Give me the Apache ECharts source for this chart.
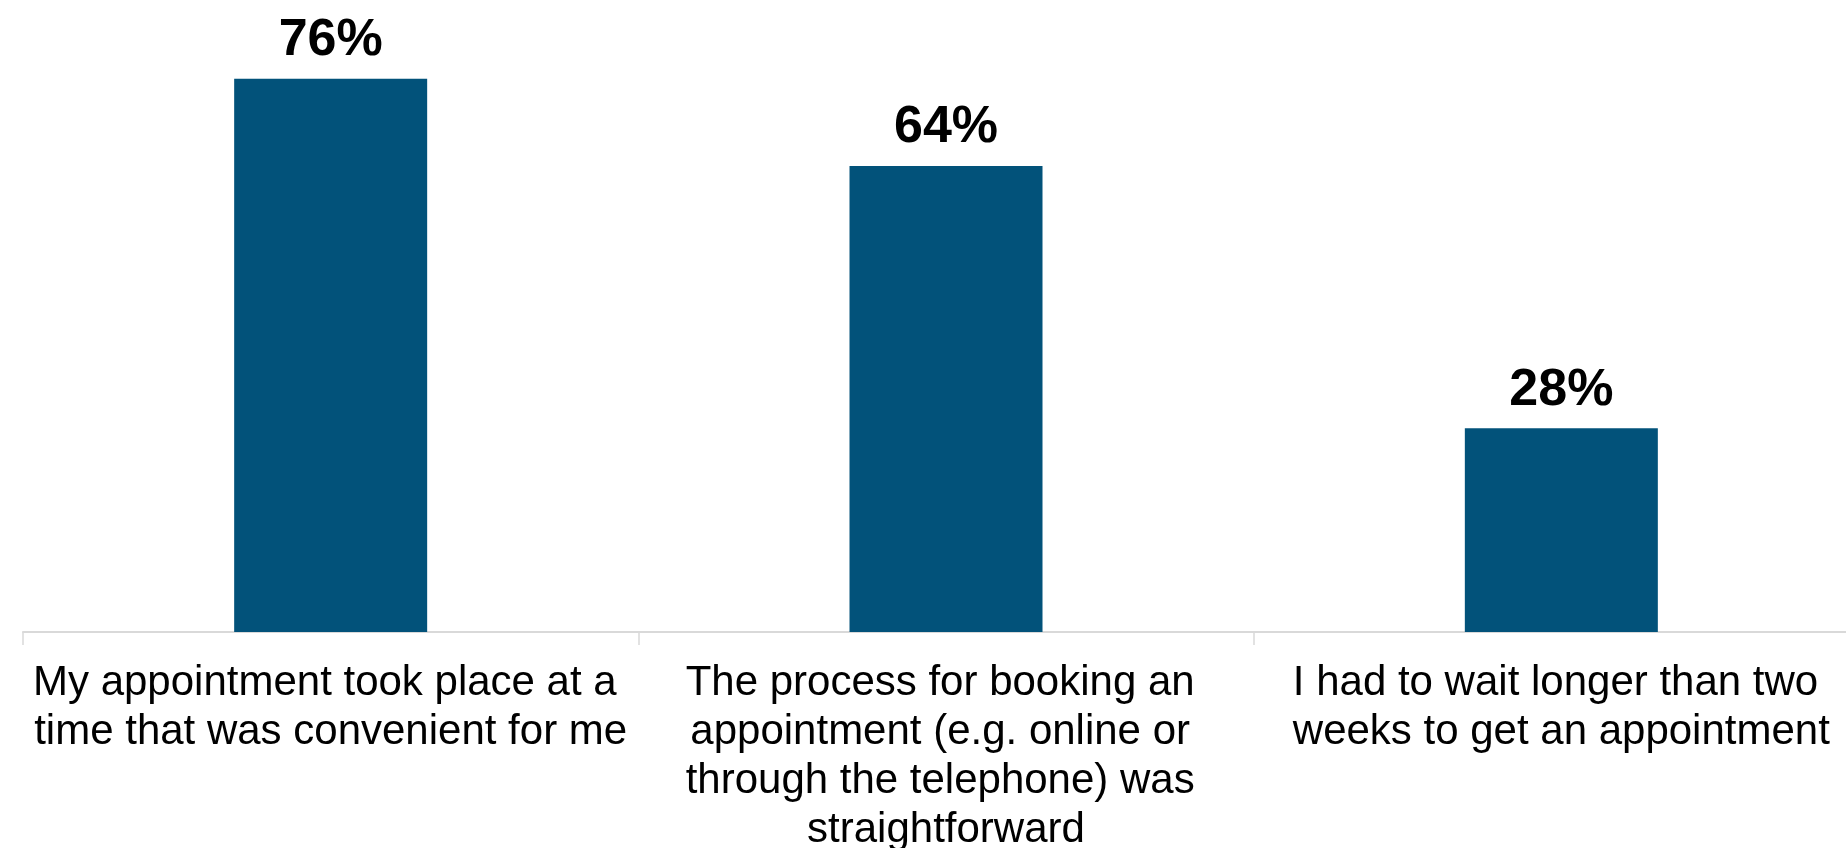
<!DOCTYPE html>
<html>
<head>
<meta charset="utf-8">
<style>
  html, body { margin: 0; padding: 0; background: #ffffff; }
  #chart { width: 1846px; height: 848px; }
</style>
<script src="https://cdn.jsdelivr.net/npm/echarts@6/dist/echarts.min.js"></script>
</head>
<body>
<div id="chart"></div>
<script>
// Survey statements (x-axis categories)
const categories = [
  'My appointment took place at a time that was convenient for me',
  'The process for booking an appointment (e.g. online or through the telephone) was straightforward',
  'I had to wait longer than two weeks to get an appointment'
];
// Share of respondents agreeing, in percent
const agreePercent = [76, 64, 28];

const FONT = '"Liberation Sans", Arial, Helvetica, sans-serif';

const chart = echarts.init(document.getElementById('chart'));
chart.setOption({
  animation: false,
  backgroundColor: '#ffffff',
  // The plot runs past the right edge so the third column is clipped like the first.
  grid: { left: 23, width: 1846, top: 49.6, bottom: 216, outerBoundsMode: 'none' },
  xAxis: {
    type: 'category',
    data: categories,
    axisLine: { show: true, lineStyle: { color: '#d9d9d9', width: 2 } },
    axisTick: { show: true, length: 13, lineStyle: { color: '#d9d9d9', width: 1.5 } },
    axisLabel: {
      interval: 0,
      margin: 27,
      color: '#000000',
      fontFamily: FONT,
      fontSize: 42,
      lineHeight: 49,
      width: 610,
      overflow: 'break',
      align: 'center'
    }
  },
  yAxis: {
    type: 'value',
    min: 0,
    max: 80,
    show: false,
    splitLine: { show: false }
  },
  series: [{
    type: 'bar',
    data: agreePercent,
    barWidth: 193,
    itemStyle: { color: '#02527a' },
    label: {
      show: true,
      position: 'top',
      distance: 12,
      color: '#000000',
      fontFamily: FONT,
      fontWeight: 'bold',
      fontSize: 52,
      formatter: p => p.value + '%'
    }
  }]
});
</script>
</body>
</html>
